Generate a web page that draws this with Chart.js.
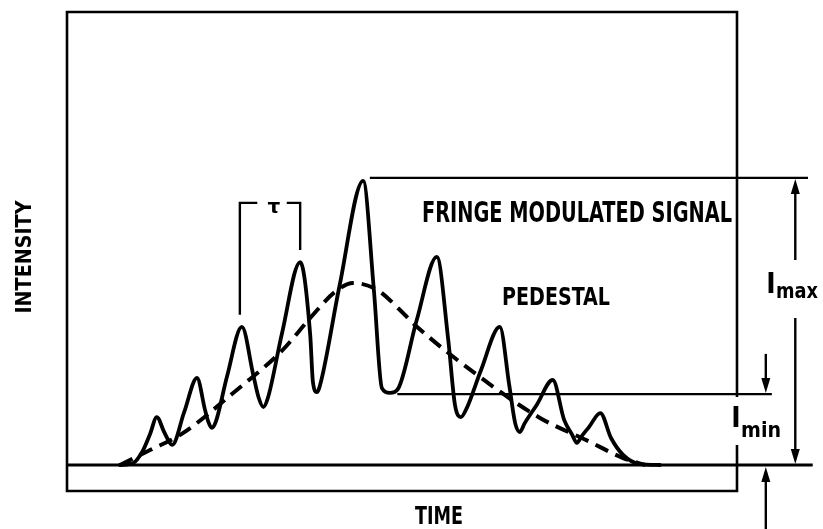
<!DOCTYPE html>
<html>
<head>
<meta charset="utf-8">
<script src="https://cdn.jsdelivr.net/npm/chart.js@4.4.0/dist/chart.umd.min.js"></script>
<style>
  html, body { margin: 0; padding: 0; background: #fff; }
  #wrap { width: 823px; height: 529px; }
</style>
</head>
<body>
<div id="wrap"><canvas id="chart" width="823" height="529"></canvas></div>
<script>
// time runs 0..100 across the frame, intensity is 0 on the base line and 100 at I max
const signalTime = [7.9, 9.9, 11.3, 12.4, 13.4, 14.5, 15.7, 17.5, 19.4, 20.6, 21.1, 21.6, 22.2, 23.9, 26.1,
    27.8, 28.6, 29.3, 30.0, 32.1, 34.8, 36.3, 36.7, 37.3, 37.9, 40.7, 44.2, 45.8, 47.0, 48.2,
    49.4, 52.2, 55.2, 56.9, 57.9, 58.8, 59.7, 61.8, 64.6, 66.0, 66.9, 67.6, 68.3, 70.1, 72.5,
    74.2, 75.4, 76.1, 76.8, 77.9, 79.6, 81.2, 83.0, 85.5, 88.5];
const signalIntensity = [0, 0.7, 4.9, 10.8, 16.7, 11.5, 7.0, 18.5, 30.3, 19.2, 15.0, 12.9, 15.0, 31.0, 48.1,
    31.4, 23.5, 20.2, 23.5, 46.0, 70.7, 45.3, 29.0, 25.4, 29.0, 62.7, 99, 61.0, 26.8, 25.1,
    26.5, 50.5, 72.5, 43.6, 21.0, 16.7, 20.0, 33.1, 48.1, 27.9, 14.5, 11.5, 14.5, 20.9, 29.6,
    15.7, 10.5, 7.7, 10.0, 13.2, 18.1, 9.4, 3.5, 0.3, 0];

const pedestalTime = [7.9, 12.4, 17.3, 24.8, 32.2, 36.3, 40.0, 42.7, 46.3, 49.7, 51.6, 61.6, 70.6, 78.1, 83.0, 86.3];
const pedestalIntensity = [0, 5.2, 11.1, 25.1, 40.1, 51.2, 60.3, 63.4, 61.0, 54.0, 49.5, 30.7, 16.4, 8.0, 2.4, 0];

const timeRange = [0, 100];
const intensityRange = [-9.06, 157.8];
const baseLevel = 0;
const imaxLevel = 100;
const iminLevel = 24.7;
const tauSpan = [25.8, 34.8];   // from one fringe peak to the next

const ink = '#000';
const FONT = '"Liberation Sans Narrow", "DejaVu Sans Condensed", "Liberation Sans", Arial, sans-serif';

function toPoints(xs, ys) {
    return xs.map((x, i) => ({ x: x, y: ys[i] }));
}

function arrow(ctx, x, yFrom, yTip) {
    const dir = Math.sign(yTip - yFrom);
    ctx.beginPath();
    ctx.moveTo(x, yFrom);
    ctx.lineTo(x, yTip - dir * 10);
    ctx.stroke();
    ctx.beginPath();
    ctx.moveTo(x, yTip);
    ctx.lineTo(x - 4.5, yTip - dir * 15);
    ctx.lineTo(x + 4.5, yTip - dir * 15);
    ctx.closePath();
    ctx.fill();
}

function line(ctx, x0, y0, x1, y1) {
    ctx.beginPath();
    ctx.moveTo(x0, y0);
    ctx.lineTo(x1, y1);
    ctx.stroke();
}

const sketchPlugin = {
    id: 'sketch',
    beforeDatasetsDraw(chart) {
        const { ctx, chartArea: a, scales: { x, y } } = chart;
        const px = v => x.getPixelForValue(v);
        const py = v => y.getPixelForValue(v);
        ctx.save();
        ctx.strokeStyle = ink;
        ctx.fillStyle = ink;
        ctx.lineWidth = 2.6;

        // frame, open on the right where the I min label sits
        ctx.beginPath();
        ctx.moveTo(a.right, py(7.0));
        ctx.lineTo(a.right, a.bottom);
        ctx.lineTo(a.left, a.bottom);
        ctx.lineTo(a.left, a.top);
        ctx.lineTo(a.right, a.top);
        ctx.lineTo(a.right, py(23.7));
        ctx.stroke();

        // base line, I max and I min levels
        ctx.lineWidth = 3;
        line(ctx, a.left, py(baseLevel), px(111.3), py(baseLevel));
        ctx.lineWidth = 2.4;
        line(ctx, px(45.2), py(imaxLevel), px(110.6), py(imaxLevel));
        line(ctx, px(49.3), py(iminLevel), px(105.2), py(iminLevel));

        // I max dimension arrow
        arrow(ctx, px(108.7), py(71.4), py(imaxLevel) + 1);
        arrow(ctx, px(108.7), py(51.2), py(baseLevel) - 1);
        // I min arrows
        arrow(ctx, px(104.3), py(38.7), py(iminLevel) - 1);
        arrow(ctx, px(104.3), py(-22.5), py(baseLevel) + 2);

        // tau bracket
        ctx.beginPath();
        ctx.moveTo(px(tauSpan[0]), py(52.3));
        ctx.lineTo(px(tauSpan[0]), py(91.3));
        ctx.lineTo(px(28.4), py(91.3));
        ctx.stroke();
        ctx.beginPath();
        ctx.moveTo(px(32.8), py(91.3));
        ctx.lineTo(px(tauSpan[1]), py(91.3));
        ctx.lineTo(px(tauSpan[1]), py(74.9));
        ctx.stroke();

        // labels
        ctx.textBaseline = 'alphabetic';
        ctx.textAlign = 'left';
        ctx.font = 'bold 28px ' + FONT;
        ctx.fillText('FRINGE MODULATED SIGNAL', 422, 222, 310);
        ctx.font = 'bold 25px ' + FONT;
        ctx.fillText('PEDESTAL', 502, 305, 108);

        ctx.font = 'bold 20px "DejaVu Sans", sans-serif';
        ctx.textAlign = 'center';
        ctx.fillText('\u03C4', 274, 213);

        ctx.font = 'bold 28px ' + FONT;
        ctx.fillText('I', 771, 293);
        ctx.textAlign = 'left';
        ctx.font = 'bold 22px ' + FONT;
        ctx.fillText('max', 776, 298, 42);

        ctx.textAlign = 'center';
        ctx.font = 'bold 28px ' + FONT;
        ctx.fillText('I', 736, 427);
        ctx.textAlign = 'left';
        ctx.font = 'bold 22px ' + FONT;
        ctx.fillText('min', 741, 437, 40);

        ctx.textAlign = 'center';
        ctx.font = 'bold 25px ' + FONT;
        ctx.fillText('TIME', 439, 524, 48);

        ctx.translate(31, 257);
        ctx.rotate(-Math.PI / 2);
        ctx.font = 'bold 22px ' + FONT;
        ctx.fillText('INTENSITY', 0, 0, 113);
        ctx.restore();
    }
};

new Chart(document.getElementById('chart'), {
    type: 'line',
    data: {
        datasets: [{
            label: 'Fringe modulated signal',
            data: toPoints(signalTime, signalIntensity),
            borderColor: ink,
            borderWidth: 3.8,
            borderJoinStyle: 'round',
            borderCapStyle: 'round',
            cubicInterpolationMode: 'monotone',
            pointRadius: 0,
            fill: false
        }, {
            label: 'Pedestal',
            data: toPoints(pedestalTime, pedestalIntensity),
            borderColor: ink,
            borderWidth: 4,
            borderDash: [14, 8],
            cubicInterpolationMode: 'monotone',
            pointRadius: 0,
            fill: false
        }]
    },
    options: {
        responsive: false,
        animation: false,
        devicePixelRatio: 1,
        layout: { padding: { left: 67, right: 86, top: 12, bottom: 38 } },
        plugins: { legend: { display: false }, tooltip: { enabled: false } },
        scales: {
            x: { type: 'linear', min: timeRange[0], max: timeRange[1], display: false },
            y: { type: 'linear', min: intensityRange[0], max: intensityRange[1], display: false }
        }
    },
    plugins: [sketchPlugin]
});
</script>
</body>
</html>
